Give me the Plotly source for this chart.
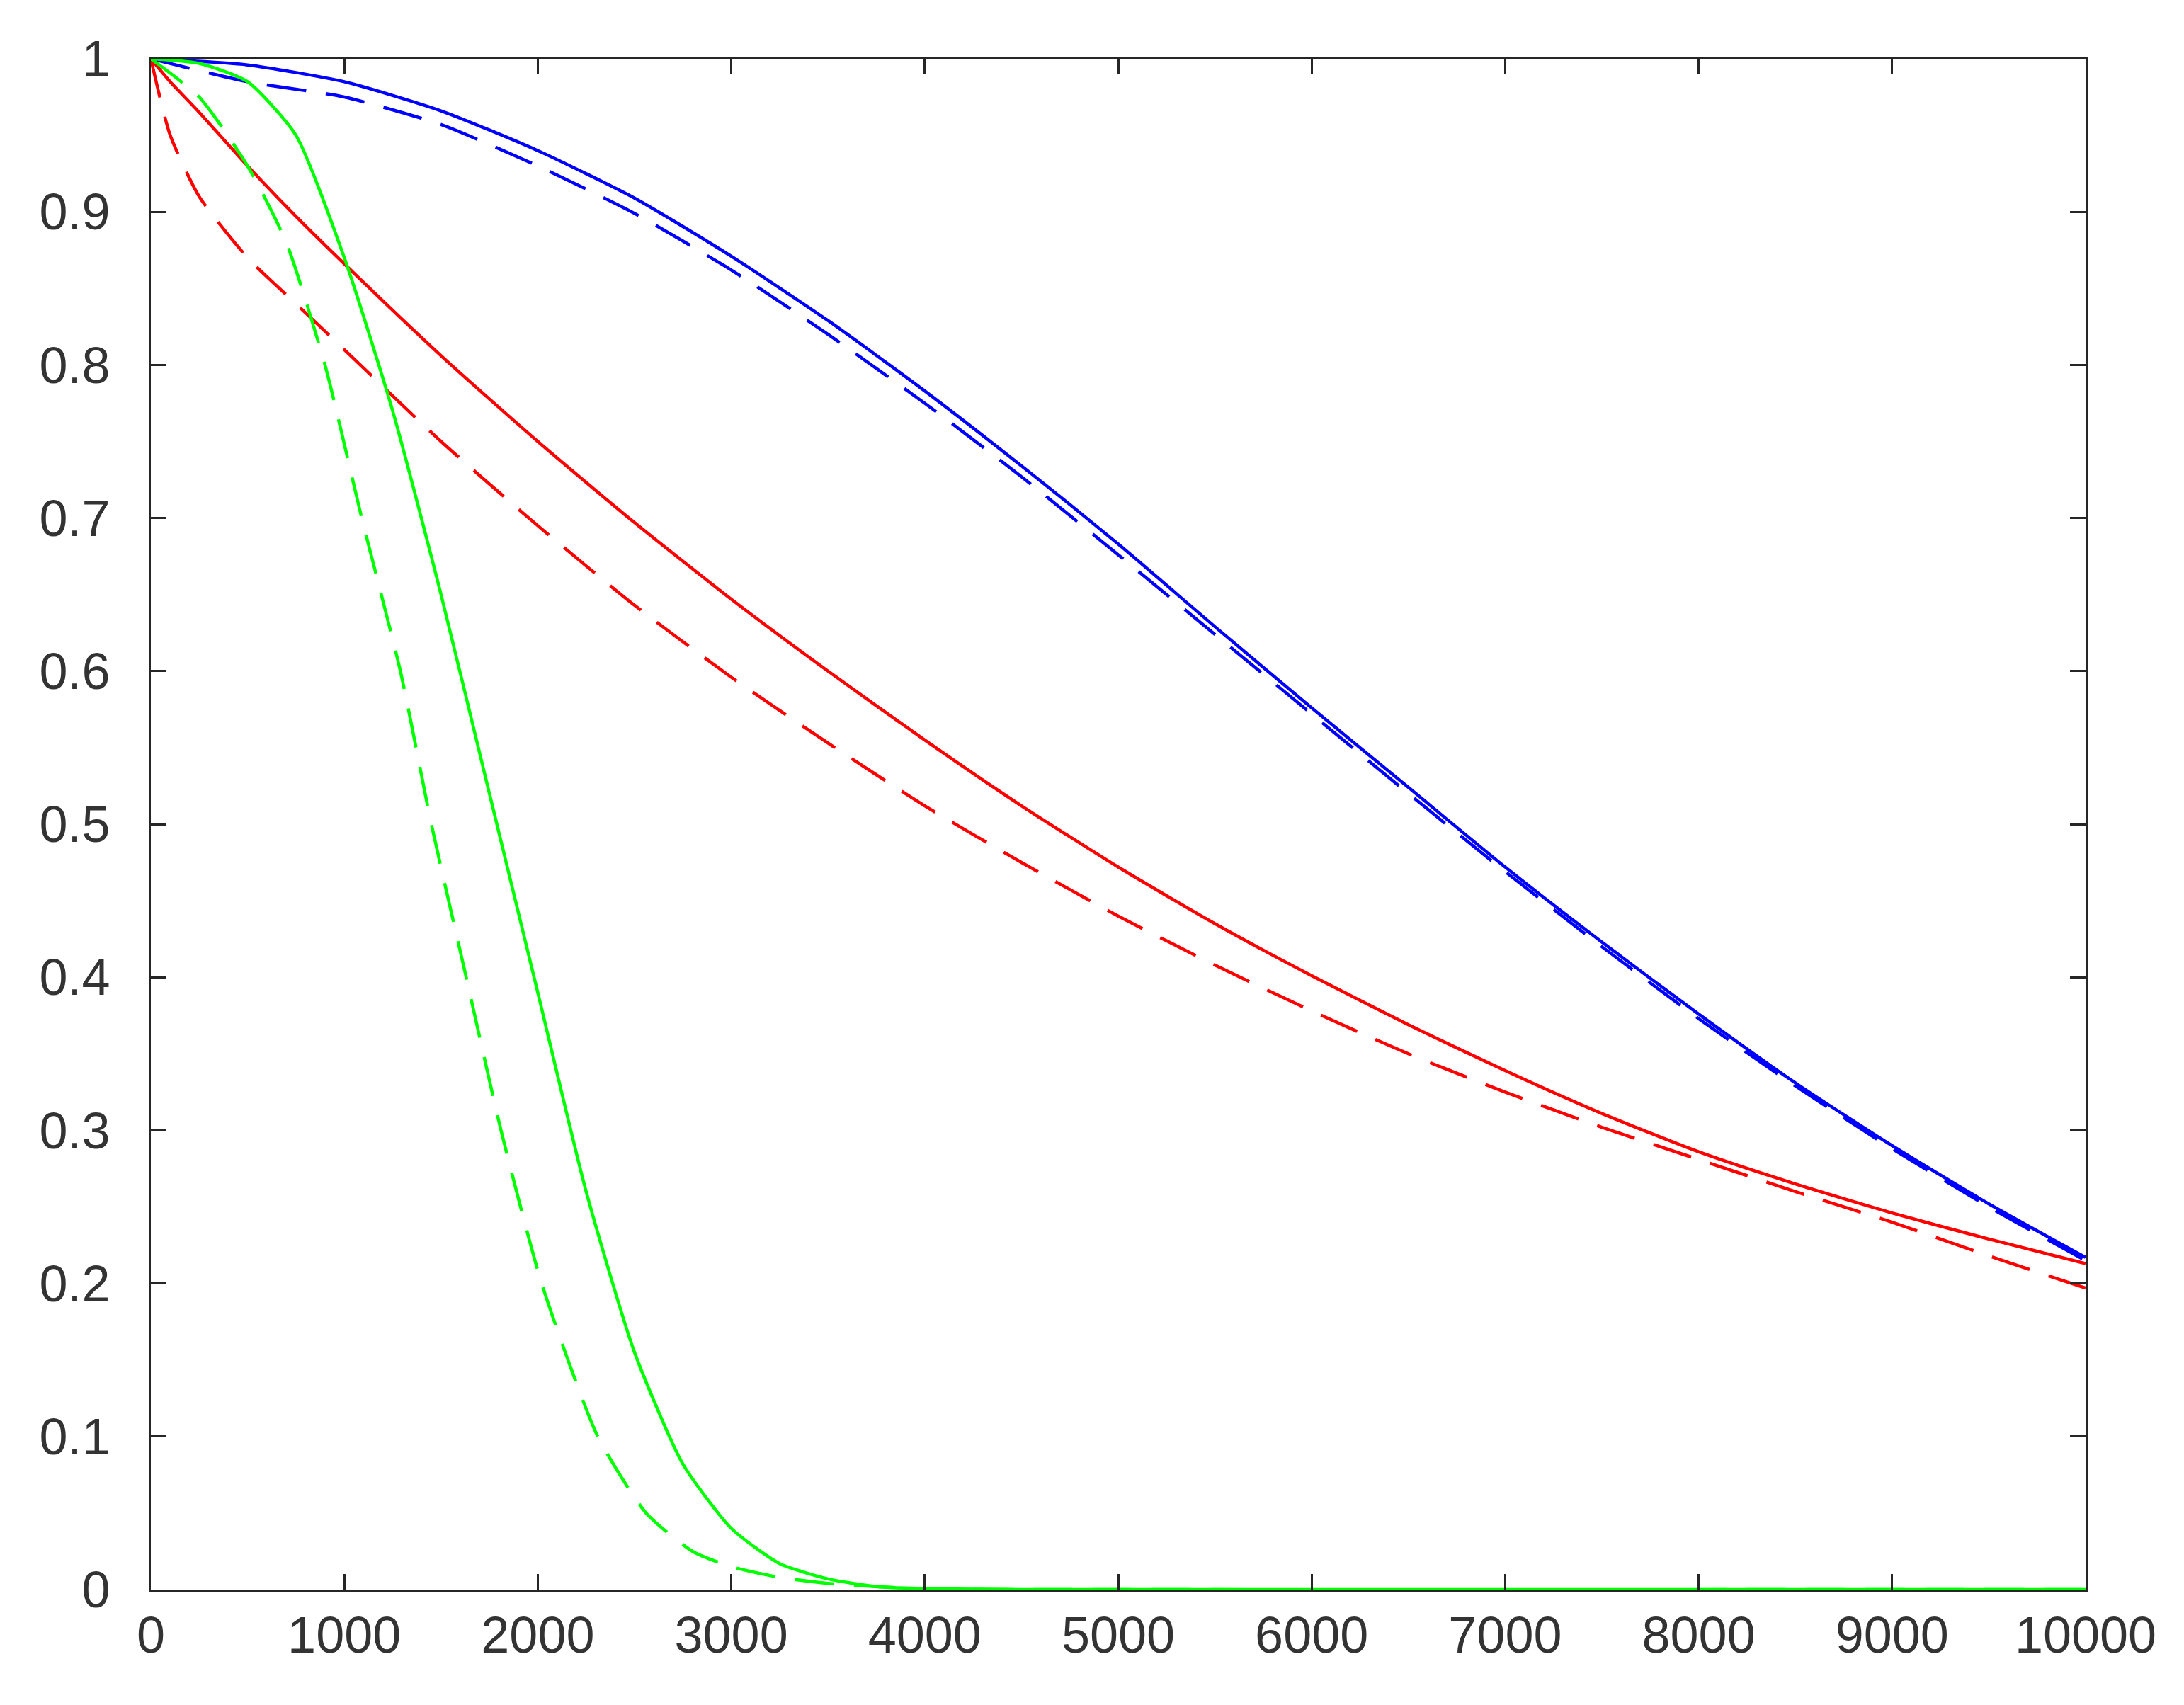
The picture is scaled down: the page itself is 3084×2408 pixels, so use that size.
import plotly.graph_objects as go

# x positions and curve values
x_main = [0, 500, 1000, 1500, 2000, 2500, 3000, 3500, 4000, 4500, 5000, 5500, 6000, 6500, 7000, 7500, 8000, 8500, 9000, 9500, 10000]
blue_solid = [1.0, 0.996, 0.985, 0.966, 0.94, 0.909, 0.871, 0.829, 0.783, 0.734, 0.683, 0.629, 0.576, 0.524, 0.472, 0.423, 0.376, 0.331, 0.29, 0.252, 0.217]
blue_dash = [1.0, 0.985, 0.975, 0.957, 0.93, 0.899, 0.862, 0.82, 0.775, 0.727, 0.676, 0.624, 0.572, 0.52, 0.469, 0.42, 0.373, 0.329, 0.288, 0.25, 0.215]

x_red = [0, 100, 250, 500, 750, 1000, 1500, 2000, 2500, 3000, 3500, 4000, 4500, 5000, 5500, 6000, 6500, 7000, 7500, 8000, 8500, 9000, 9500, 10000]
red_solid = [1.0, 0.985, 0.965, 0.93, 0.897, 0.866, 0.806, 0.75, 0.697, 0.647, 0.6, 0.555, 0.512, 0.472, 0.435, 0.401, 0.369, 0.339, 0.311, 0.286, 0.265, 0.246, 0.229, 0.213]
red_dash = [1.0, 0.95, 0.91, 0.87, 0.84, 0.81, 0.75, 0.695, 0.643, 0.596, 0.553, 0.512, 0.475, 0.44, 0.408, 0.378, 0.35, 0.325, 0.302, 0.281, 0.26, 0.24, 0.218, 0.197]

x_green = [0, 250, 500, 750, 1000, 1250, 1500, 1750, 2000, 2250, 2500, 2750, 3000, 3250, 3500, 3750, 4000, 4500, 5000, 6000, 8000, 10000]
green_solid = [1.0, 0.997, 0.985, 0.95, 0.87, 0.77, 0.65, 0.52, 0.39, 0.26, 0.155, 0.082, 0.04, 0.017, 0.007, 0.002, 0.0006, 0.0, 0.0, 0.0, 0.0, 0.0]
x_green_d = [0, 250, 500, 700, 900, 1090, 1290, 1450, 1630, 1810, 2020, 2310, 2560, 2800, 3000, 3250, 3500, 4000, 5000, 10000]
green_dash = [1.0, 0.975, 0.93, 0.88, 0.8, 0.7, 0.6, 0.5, 0.4, 0.3, 0.2, 0.1, 0.05, 0.025, 0.015, 0.008, 0.004, 0.0005, 0.0, 0.0]

DASH = "56px,28px"
fig = go.Figure()
series = [
    (x_main, blue_solid, "#0000ff", "solid"),
    (x_main, blue_dash, "#0000ff", DASH),
    (x_red, red_solid, "#ff0000", "solid"),
    (x_red, red_dash, "#ff0000", DASH),
    (x_green, green_solid, "#00ff00", "solid"),
    (x_green_d, green_dash, "#00ff00", DASH),
]
for xs, ys, col, dash in series:
    fig.add_trace(go.Scatter(x=xs, y=ys, mode="lines", line=dict(color=col, width=4.5, dash=dash, shape="spline", smoothing=0.6)))

axis_common = dict(
    showgrid=False, zeroline=False, showline=True, linecolor="#262626", linewidth=3,
    mirror="ticks", ticks="inside", ticklen=22, tickwidth=3, tickcolor="#262626",
    tickfont=dict(family="Liberation Sans", size=72, color="#333333"),
)
fig.update_xaxes(range=[0, 10000], dtick=1000, tickformat="d", **axis_common)
fig.update_yaxes(range=[0, 1], dtick=0.1, tickformat="~g", ticksuffix="  ", **axis_common)
fig.update_layout(
    width=3084, height=2408, showlegend=False,
    plot_bgcolor="white", paper_bgcolor="white",
    margin=dict(l=205, r=147, t=75, b=171),
)
fig.write_html("out.html")
